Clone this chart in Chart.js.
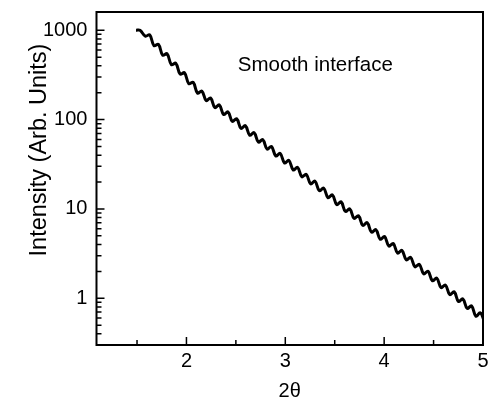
<!DOCTYPE html>
<html>
<head>
<meta charset="utf-8">
<script src="https://cdn.jsdelivr.net/npm/chart.js@4.4.1/dist/chart.umd.min.js"></script>
<style>
  html, body { margin: 0; padding: 0; background: #fff; }
</style>
</head>
<body>
<canvas id="reflChart" width="489" height="397"></canvas>
<script>
// 2theta positions (start plateau, then fringe maxima/minima)
const twoTheta = [
  1.49, 1.53,
  1.584, 1.628, 1.672, 1.716, 1.760, 1.804, 1.848, 1.892, 1.936, 1.980,
  2.024, 2.068, 2.112, 2.156, 2.200, 2.244, 2.288, 2.332, 2.376, 2.420,
  2.464, 2.508, 2.552, 2.596, 2.640, 2.684, 2.728, 2.772, 2.816, 2.860,
  2.904, 2.948, 2.992, 3.036, 3.080, 3.124, 3.168, 3.212, 3.256, 3.300,
  3.344, 3.388, 3.432, 3.476, 3.520, 3.564, 3.608, 3.652, 3.696, 3.740,
  3.784, 3.828, 3.872, 3.916, 3.960, 4.004, 4.048, 4.092, 4.136, 4.180,
  4.224, 4.268, 4.312, 4.356, 4.400, 4.444, 4.488, 4.532, 4.576, 4.620,
  4.664, 4.708, 4.752, 4.796, 4.840, 4.884, 4.928, 4.972,
  5.01,
];

// intensity (arb. units)
const intensity = [
  1000, 998,
  858, 888, 671.5, 695.7, 526, 545, 412, 427, 323, 334,
  252.3, 261.3, 197.8, 208.6, 163.1, 174.4, 136.4, 145.9, 114.1, 122.0,
  95.4, 102.1, 79.8, 85.4, 66.8, 71.4, 55.9, 59.7, 46.7, 50.0,
  39.1, 41.8, 32.7, 34.9, 27.3, 29.2, 22.9, 24.4, 19.1, 20.5,
  16.0, 17.1, 13.35, 14.36, 11.19, 12.02, 9.37, 10.02, 7.83, 8.38,
  6.56, 7.02, 5.49, 5.87, 4.58, 4.91, 3.84, 4.10, 3.21, 3.43,
  2.69, 2.87, 2.25, 2.40, 1.875, 2.007, 1.571, 1.681, 1.315, 1.406,
  1.100, 1.182, 0.920, 0.984, 0.770, 0.823, 0.630, 0.689,
  0.570,
];

const xLabelTicks = [2, 3, 4, 5];
const xMinorTicks = [1.5, 2.5, 3.5, 4.5];
const yLabelTicks = [1, 10, 100, 1000];
const yMinorTicks = [
  0.4, 0.5, 0.6, 0.7, 0.8, 0.9,
  2, 3, 4, 5, 6, 7, 8, 9,
  20, 30, 40, 50, 60, 70, 80, 90,
  200, 300, 400, 500, 600, 700, 800, 900,
];

const noteText = "Smooth interface";
const noteAt = { x: 2.52, y: 400 };
const yTitle = "Intensity (Arb. Units)";
const FONT = "Arial, 'Liberation Sans', sans-serif";

// frame, inward ticks, y title and the note
const framePlugin = {
  id: "framePlugin",
  afterDraw(chart) {
    const { ctx, chartArea: a, scales } = chart;
    ctx.save();
    ctx.strokeStyle = "#000";
    ctx.lineWidth = 2;
    ctx.strokeRect(a.left, a.top, a.right - a.left, a.bottom - a.top);

    ctx.lineWidth = 1.5;
    ctx.beginPath();
    for (const v of xLabelTicks) {
      const px = scales.x.getPixelForValue(v);
      ctx.moveTo(px, a.bottom);
      ctx.lineTo(px, a.bottom - 8);
    }
    for (const v of xMinorTicks) {
      const px = scales.x.getPixelForValue(v);
      ctx.moveTo(px, a.bottom);
      ctx.lineTo(px, a.bottom - 5);
    }
    for (const v of yLabelTicks) {
      const py = scales.y.getPixelForValue(v);
      ctx.moveTo(a.left, py);
      ctx.lineTo(a.left + 8, py);
    }
    for (const v of yMinorTicks) {
      const py = scales.y.getPixelForValue(v);
      ctx.moveTo(a.left, py);
      ctx.lineTo(a.left + 5, py);
    }
    ctx.stroke();

    ctx.fillStyle = "#000";
    ctx.font = "20.5px " + FONT;
    ctx.textAlign = "left";
    ctx.textBaseline = "middle";
    ctx.fillText(noteText, scales.x.getPixelForValue(noteAt.x), scales.y.getPixelForValue(noteAt.y));

    ctx.translate(40, 150);
    ctx.rotate(-Math.PI / 2);
    ctx.font = "23.5px " + FONT;
    ctx.textAlign = "center";
    ctx.fillText(yTitle, 0, 0);
    ctx.restore();
  },
};

// let the frame run to the padding edge instead of half a label away
const noLabelPadding = (scale) => {
  scale.paddingTop = 0;
  scale.paddingBottom = 0;
  scale.paddingLeft = 0;
  scale.paddingRight = 0;
};

const ctx = document.getElementById("reflChart").getContext("2d");
const reflChart = new Chart(ctx, {
  type: "line",
  data: {
    datasets: [
      {
        data: twoTheta.map((x, i) => ({ x: x, y: intensity[i] })),
        borderColor: "#000",
        borderWidth: 3,
        pointRadius: 0,
        tension: 0.4,
        fill: false,
      },
    ],
  },
  options: {
    responsive: false,
    animation: false,
    devicePixelRatio: 1,
    layout: { padding: { left: 34, right: 6, top: 12, bottom: -4 } },
    plugins: {
      legend: { display: false },
      tooltip: { enabled: false },
    },
    scales: {
      x: {
        type: "linear",
        min: 1.09,
        max: 5,
        grid: { display: false, drawTicks: false },
        border: { display: false },
        afterBuildTicks: (scale) => {
          scale.ticks = xLabelTicks.map((v) => ({ value: v }));
        },
        afterFit: noLabelPadding,
        ticks: {
          color: "#000",
          padding: 4,
          font: { family: FONT, size: 20 },
          maxRotation: 0,
          callback: (v) => String(v),
        },
        title: {
          display: true,
          text: "2θ",
          color: "#000",
          font: { family: FONT, size: 20, lineHeight: 1 },
          padding: { top: 4, bottom: 0 },
        },
      },
      y: {
        type: "logarithmic",
        min: 0.316,
        max: 1600,
        grid: { display: false, drawTicks: false },
        border: { display: false },
        afterBuildTicks: (scale) => {
          scale.ticks = yLabelTicks.map((v) => ({ value: v }));
        },
        afterFit: noLabelPadding,
        ticks: {
          color: "#000",
          padding: 9,
          font: { family: FONT, size: 20 },
          callback: (v) => String(v),
        },
      },
    },
  },
  plugins: [framePlugin],
});
</script>
</body>
</html>
